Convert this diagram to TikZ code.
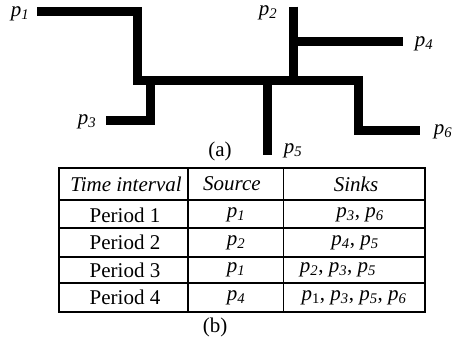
\documentclass[tikz,border=0pt]{standalone}
\usepackage{fontspec}
\setmainfont{Liberation Serif}
\newcommand\pn[1]{\textit{p}\textsubscript{\textit{#1}}}
\newcommand\pu[1]{\textit{p}\textsubscript{#1}}
\begin{document}
\begin{tikzpicture}[x=1bp,y=-1bp,
  wire/.style={line width=9bp,line cap=butt,line join=miter},
  grid/.style={line width=1.1bp},
  lbl/.style={inner sep=0pt,font=\fontsize{21bp}{25bp}\selectfont},
  cell/.style={inner sep=0pt,font=\fontsize{21bp}{25bp}\selectfont}]
\useasboundingbox (0,0) rectangle (453,341);

% routing tree (a)
\draw[wire] (37,11) -- (137.5,11) -- (137.5,80.5) -- (358.5,80.5) -- (358.5,130) -- (419.5,130);
\draw[wire] (150,80.5) -- (150,120) -- (106,120);
\draw[wire] (267.5,80.5) -- (267.5,154.5);
\draw[wire] (293.5,6.5) -- (293.5,85);
\draw[wire] (293.5,41.5) -- (403,41.5);

\node[lbl] (l1) at (20,14) {\pn{1}};
\node[lbl] (l2) at (268,13) {\pn{2}};
\node[lbl] (l4) at (424,44) {\pn{4}};
\node[lbl] (l3) at (87,122) {\pn{3}};
\node[lbl] (l6) at (443,132) {\pn{6}};
\node[lbl] (l5) at (293,151) {\pn{5}};
\node[lbl] (capa) at (220,151) {(a)};

% schedule table (b)
\draw[grid] (59,168) rectangle (425,312);
\foreach \yy in {200,228,257,283} \draw[grid] (59,\yy) -- (425,\yy);
\draw[grid] (188,168) -- (188,312);
\draw[grid] (283.5,168) -- (283.5,312);

\node[cell] (h1) at (126,184) {\textit{Time interval}};
\node[cell] (h2) at (232,184) {\textit{Source}};
\node[cell] (h3) at (356,184) {\textit{Sinks}};

\node[cell] (r1a) at (125,215) {Period 1};
\node[cell] (r1b) at (236,215) {\pn{1}};
\node[cell] (r1c) at (360,215) {\pn{3}, \pn{6}};

\node[cell] (r2a) at (125,242.5) {Period 2};
\node[cell] (r2b) at (236,242.5) {\pn{2}};
\node[cell] (r2c) at (355,242.5) {\pn{4}, \pn{5}};

\node[cell] (r3a) at (125,270) {Period 3};
\node[cell] (r3b) at (236,270) {\pn{1}};
\node[cell] (r3c) at (338,270) {\pn{2}, \pn{3}, \pn{5}};

\node[cell] (r4a) at (125,297.5) {Period 4};
\node[cell] (r4b) at (236,297.5) {\pn{4}};
\node[cell] (r4c) at (354,297.5) {\pu{1}, \pn{3}, \pn{5}, \pn{6}};

\node[cell] (capb) at (215,327) {(b)};
\end{tikzpicture}
\end{document}
